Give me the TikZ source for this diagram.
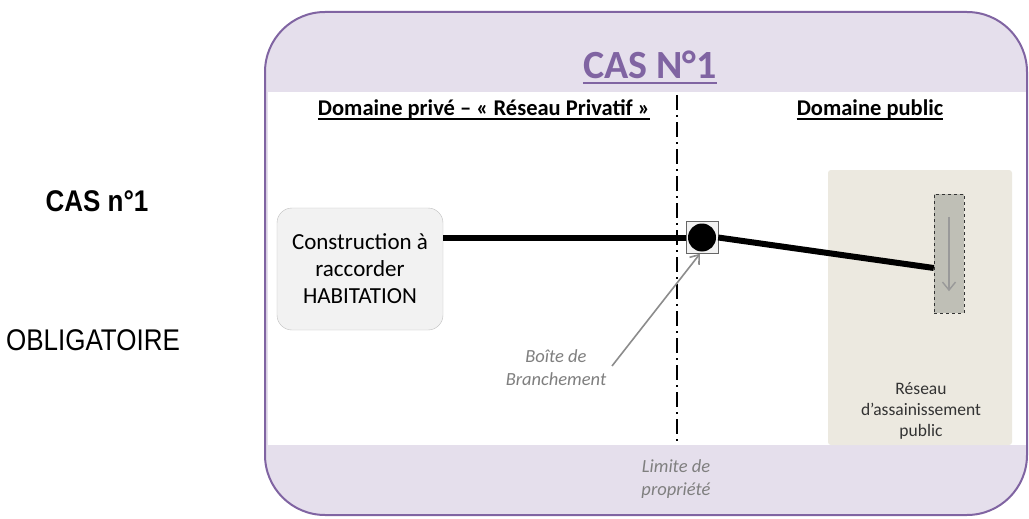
\documentclass[tikz,border=0pt]{standalone}
\usepackage{fontspec}
\setmainfont{Carlito}
\newfontfamily\arialf{Liberation Sans}
\usetikzlibrary{calc,arrows.meta}
\definecolor{lav}{HTML}{E5DFEC}
\definecolor{purp}{HTML}{8064A2}
\definecolor{beige}{HTML}{ECE9E0}
\definecolor{graybox}{HTML}{BFBFB6}
\definecolor{cfill}{HTML}{F2F2F2}
\definecolor{txtgray}{HTML}{7F7F7F}
\tikzset{
  cbox/.style={draw=black!25, fill=cfill, rounded corners=15pt, minimum width=166pt, minimum height=122pt, align=center, font=\fontsize{23}{27}\selectfont, inner sep=0pt},
  pipe/.style={line width=6pt},
  head/.style={font=\fontsize{22.5}{24}\selectfont\bfseries, inner sep=0pt, anchor=base},
  note/.style={font=\fontsize{18.5}{23}\selectfont\itshape, text=txtgray, align=center, inner sep=0pt},
  garrow/.style={draw=black!45, line width=1.6pt, -{Straight Barb[length=8pt,width=12pt]}},
  side/.style={font=\arialf\fontsize{26}{30}\selectfont, inner sep=0pt, anchor=base}
}
\begin{document}
\begin{tikzpicture}[x=1pt,y=-1pt]
\useasboundingbox (0,0) rectangle (1029,519);
% outer frame
\path[fill=lav, draw=purp, line width=2pt, rounded corners=60pt] (265,12) rectangle (1027,515);
\fill[white] (268,92) rectangle (1025.5,445);
% title
\node[font=\fontsize{40}{42}\selectfont\bfseries, text=purp, inner sep=0pt, anchor=base] (title) at (650,78) {CAS N°1};
\draw[purp, line width=2pt] ($(title.base west)+(0,5)$) -- ($(title.base east)+(0,5)$);
% headings
\node[head] (hp) at (484,116) {Domaine privé – « Réseau Privatif »};
\draw[line width=1.2pt] ($(hp.base west)+(0,3)$) -- ($(hp.base east)+(0,3)$);
\node[head] (hq) at (870,116) {Domaine public\ };
\draw[line width=1.2pt] ($(hq.base west)+(0,3)$) -- ($(hq.base east)+(0,3)$);
% property limit
\coordinate (lt) at (677,95);
\coordinate (lb) at (677,445);
\draw[line width=2.2pt, dash pattern=on 15pt off 5pt on 2pt off 5pt] (lt) -- (lb);
% public zone
\node[fill=beige, rounded corners=3pt, minimum width=184pt, minimum height=275pt, inner sep=0pt] (pub) at (920,307.5) {};
\node[draw=black!80, dashed, fill=graybox, minimum width=30pt, minimum height=119pt, inner sep=0pt] (g) at (949,253.5) {};
\draw[draw=black!40, line width=1.4pt, -{Straight Barb[length=8pt,width=13pt]}] ($(g.north)+(0,23)$) -- ($(g.south)+(0,-22)$);
\node[font=\fontsize{17.5}{21}\selectfont, align=center, inner sep=0pt, text=black!80] (rt) at (921,411) {Réseau\\d’assainissement\\public};
% construction
\node[cbox] (c) at (360,269) {Construction à\\raccorder\\HABITATION};
% branch box
\node[draw=black!60, fill=cfill, minimum size=32pt, inner sep=0pt] (b) at (702,237.5) {};
\draw[pipe] (c.east |- b) -- (b.west);
\draw[pipe] (b.east) -- ($(g.west)+(0,14.5)$);
\fill (b.center) circle (14pt);
% notes
\node[note] (bt) at (556,368) {Boîte de\\Branchement};
\coordinate (bs) at (612,366);
\draw[garrow] (bs) -- ($(b.south)+(-2,0)$);
\node[note] (lim) at (676,479) {Limite de\\propriété};
% left side
\node[side, font=\arialf\bfseries\fontsize{26}{30}\selectfont] (cas) at (97,211) {\scalebox{1}[1.15]{CAS n°1}};
\node[side] (obl) at (93,350) {\scalebox{1}[1.15]{OBLIGATOIRE}};
\end{tikzpicture}
\end{document}
